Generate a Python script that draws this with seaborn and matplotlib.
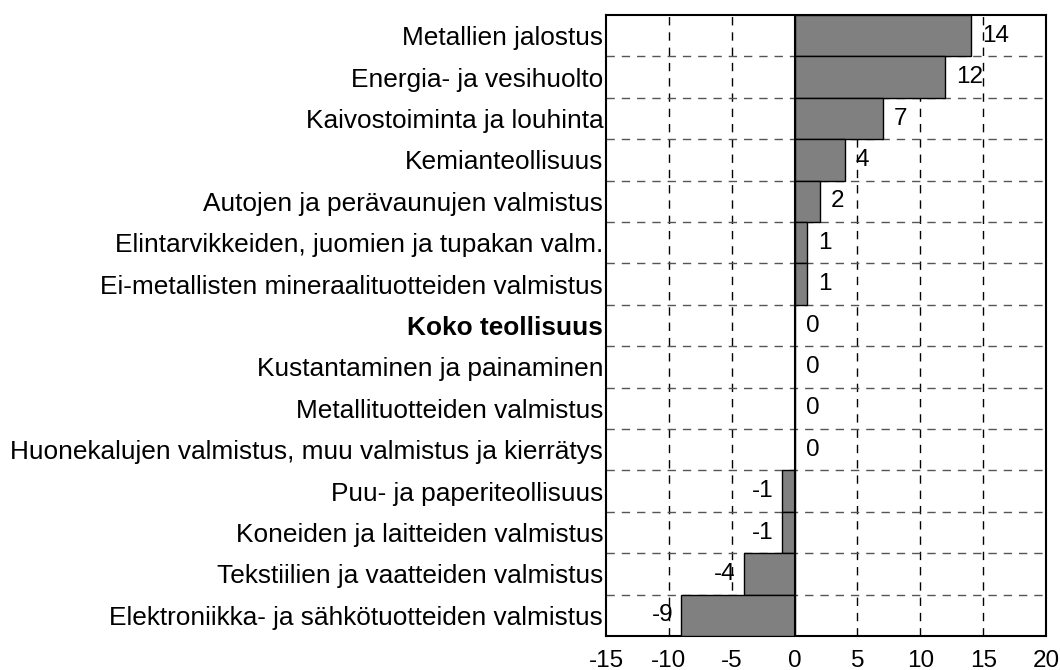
import matplotlib.pyplot as plt
import pandas as pd
import seaborn as sns

sns.set_style("white")
plt.rcParams["font.family"] = ["Liberation Sans", "DejaVu Sans"]
plt.rcParams["text.color"] = "black"
plt.rcParams["xtick.color"] = "black"
plt.rcParams["ytick.color"] = "black"

# Data
categories = [
    "Metallien jalostus",
    "Energia- ja vesihuolto",
    "Kaivostoiminta ja louhinta",
    "Kemianteollisuus",
    "Autojen ja perävaunujen valmistus",
    "Elintarvikkeiden, juomien ja tupakan valm.",
    "Ei-metallisten mineraalituotteiden valmistus",
    "Koko teollisuus",
    "Kustantaminen ja painaminen",
    "Metallituotteiden valmistus",
    "Huonekalujen valmistus, muu valmistus ja kierrätys",
    "Puu- ja paperiteollisuus",
    "Koneiden ja laitteiden valmistus",
    "Tekstiilien ja vaatteiden valmistus",
    "Elektroniikka- ja sähkötuotteiden valmistus",
]
values = [14, 12, 7, 4, 2, 1, 1, 0, 0, 0, 0, -1, -1, -4, -9]
x_ticks = [-15, -10, -5, 0, 5, 10, 15, 20]
bold_label = "Koko teollisuus"

df = pd.DataFrame({"toimiala": categories, "muutos": values})
fs_cat = 18.9
fs_num = 17.5

fig = plt.figure(figsize=(10.6, 6.7), dpi=100)
ax = fig.add_axes([0.5717, 0.0507, 0.4151, 0.9269])

sns.barplot(
    data=df, y="toimiala", x="muutos", orient="h", ax=ax,
    color="#808080", saturation=1, width=1.0, edgecolor="black", linewidth=1,
    zorder=3,
)

ax.set_xlim(x_ticks[0], x_ticks[-1])
ax.set_ylim(len(categories) - 0.5, -0.5)
ax.set_xticks(x_ticks)
ax.set_xticklabels([str(t) for t in x_ticks], fontsize=fs_num)
ax.set_yticks(range(len(categories)))
ax.set_yticklabels(categories, fontsize=fs_cat)
for lbl in ax.get_yticklabels():
    if lbl.get_text() == bold_label:
        lbl.set_fontweight("bold")
ax.tick_params(axis="y", length=0, pad=2)
ax.tick_params(axis="x", length=0, pad=10)
ax.set_xlabel("")
ax.set_ylabel("")

# grid: dashed verticals at ticks, dashed separators between rows
for t in x_ticks[1:-1]:
    if t != 0:
        ax.axvline(t, color="black", lw=1, ls=(0, (6, 5)), zorder=1)
for i in range(len(categories) - 1):
    ax.axhline(i + 0.5, color="#555555", lw=1, ls=(0, (6, 5)), zorder=1)
ax.axvline(0, color="black", lw=1.5, zorder=4)

for sp in ax.spines.values():
    sp.set_color("black")
    sp.set_linewidth(1.5)

# value labels
for i, v in enumerate(values):
    if v < 0:
        ax.annotate(str(v), (v, i), xytext=(-6, 0), textcoords="offset points",
                    ha="right", va="center", fontsize=fs_num, zorder=5)
    else:
        ax.annotate(str(v), (v, i), xytext=(8, 0), textcoords="offset points",
                    ha="left", va="center", fontsize=fs_num, zorder=5)

fig.savefig("out.png", dpi=100)
